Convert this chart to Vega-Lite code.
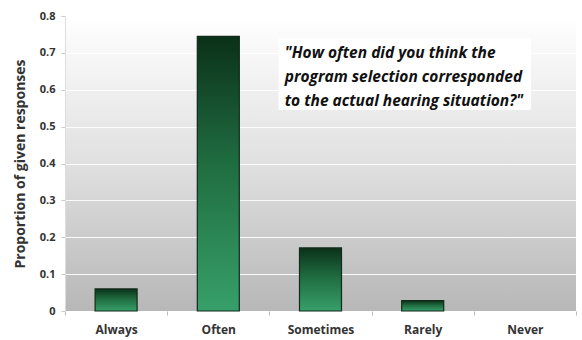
{
  "$schema": "https://vega.github.io/schema/vega-lite/v6.json",
  "width": 511,
  "height": 295,
  "autosize": "none",
  "padding": {"left": 65, "top": 16, "right": 6, "bottom": 29},
  "background": "white",
  "config": {
    "font": "Open Sans",
    "view": {
      "stroke": null,
      "fill": {"gradient": "linear", "x1": 0, "y1": 0, "x2": 0, "y2": 1,
        "stops": [{"offset": 0, "color": "#ffffff"}, {"offset": 0.5, "color": "#e0e0e0"}, {"offset": 1, "color": "#b7b7b7"}]}
    }
  },
  "datasets": {
    "bars": [
      {"response": "Always", "value": 0.06},
      {"response": "Often", "value": 0.745},
      {"response": "Sometimes", "value": 0.171},
      {"response": "Rarely", "value": 0.028},
      {"response": "Never", "value": null}
    ],
    "box": [{"x": 2.09, "x2": 4.56, "value": 0.74, "value2": 0.545}],
    "note": [
      {"x": 2.15, "value": 0.70, "line": "\"How often did you think the"},
      {"x": 2.15, "value": 0.634, "line": "program selection corresponded"},
      {"x": 2.15, "value": 0.569, "line": "to the actual hearing situation?\""}
    ]
  },
  "encoding": {
    "y": {"field": "value", "type": "quantitative",
      "scale": {"domain": [0, 0.8], "nice": false},
      "axis": {"title": "Proportion of given responses", "titleFontSize": 14, "titleFontWeight": "bold", "titleColor": "#333", "titlePadding": 12,
        "values": [0, 0.1, 0.2, 0.3, 0.4, 0.5, 0.6, 0.7, 0.8], "format": ".1~f", "labelOverlap": false,
        "labelFontWeight": "bold", "labelFontSize": 11, "labelColor": "#333", "labelPadding": 6,
        "tickSize": 4, "tickColor": "#ccc", "domainColor": "#ddd",
        "grid": true, "gridColor": "#ffffff", "gridOpacity": 0.9, "gridWidth": 1.2}}
  },
  "layer": [
    {
      "data": {"name": "bars"},
      "mark": {"type": "bar", "width": 42, "stroke": "#122a18", "strokeWidth": 1.2,
        "fill": {"gradient": "linear", "x1": 0, "y1": 0, "x2": 0, "y2": 1,
          "stops": [{"offset": 0, "color": "#0b3119"}, {"offset": 0.45, "color": "#1f6b40"}, {"offset": 1, "color": "#37a06a"}]}},
      "encoding": {
        "x": {"field": "response", "type": "nominal", "sort": null,
          "scale": {"domain": ["Always", "Often", "Sometimes", "Rarely", "Never"], "paddingInner": 0, "paddingOuter": 0},
          "axis": {"title": null, "labelAngle": 0, "labelFontWeight": "bold", "labelFontSize": 12, "labelColor": "#333",
            "labelPadding": 9, "tickBand": "extent", "tickSize": 4, "tickColor": "#bbb", "domain": false, "grid": false}}
      }
    },
    {
      "data": {"name": "box"},
      "mark": {"type": "rect", "fill": "#ffffff", "opacity": 0.95},
      "encoding": {
        "x": {"field": "x", "type": "quantitative", "scale": {"domain": [0, 5], "nice": false}, "axis": null},
        "x2": {"field": "x2"},
        "y2": {"field": "value2"}
      }
    },
    {
      "data": {"name": "note"},
      "mark": {"type": "text", "align": "left", "baseline": "middle", "font": "Open Sans", "fontSize": 15.5, "fontStyle": "italic", "fontWeight": "bold", "color": "#111"},
      "encoding": {
        "x": {"field": "x", "type": "quantitative", "scale": {"domain": [0, 5], "nice": false}, "axis": null},
        "text": {"field": "line"}
      }
    }
  ],
  "resolve": {"scale": {"x": "independent"}}
}
